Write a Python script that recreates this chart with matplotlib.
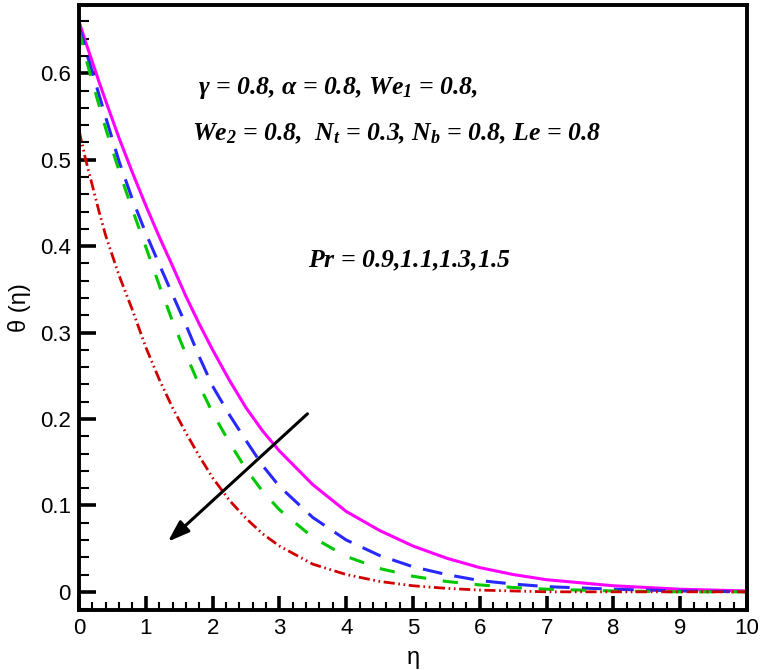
import matplotlib
matplotlib.use("Agg")
from matplotlib import pyplot as plt
from matplotlib.ticker import MultipleLocator

eta = [0, 0.1, 0.2, 0.3, 0.4, 0.6, 0.8, 1.0, 1.2, 1.4, 1.6, 1.8, 2.0,
       2.25, 2.5, 2.75, 3.0, 3.5, 4, 4.5, 5, 5.5, 6, 6.5, 7, 8, 9, 10]

# theta(eta) for Pr = 0.9, 1.1, 1.3, 1.5
theta_pr09 = [0.660, 0.636, 0.613, 0.590, 0.568, 0.525, 0.485, 0.447, 0.411,
              0.377, 0.342, 0.310, 0.280, 0.245, 0.213, 0.186, 0.163, 0.124,
              0.093, 0.071, 0.053, 0.039, 0.028, 0.020, 0.014, 0.007, 0.003,
              0.001]
theta_pr11 = [0.655, 0.627, 0.601, 0.575, 0.549, 0.498, 0.454, 0.415, 0.379,
              0.344, 0.309, 0.272, 0.238, 0.205, 0.175, 0.146, 0.122, 0.086,
              0.060, 0.042, 0.029, 0.020, 0.013, 0.009, 0.006, 0.003, 0.001,
              0.000]
theta_pr13 = [0.650, 0.618, 0.590, 0.563, 0.536, 0.487, 0.442, 0.399, 0.355,
              0.313, 0.275, 0.239, 0.207, 0.173, 0.142, 0.116, 0.095, 0.063,
              0.041, 0.027, 0.018, 0.012, 0.008, 0.005, 0.003, 0.001, 0.000,
              0.000]
theta_pr15 = [0.534, 0.500, 0.470, 0.440, 0.412, 0.366, 0.326, 0.283, 0.246,
              0.213, 0.184, 0.157, 0.132, 0.106, 0.085, 0.067, 0.053, 0.032,
              0.020, 0.012, 0.007, 0.004, 0.002, 0.001, 0.000, 0.000, 0.000,
              0.000]

plt.rcParams['mathtext.fontset'] = 'custom'
plt.rcParams['mathtext.rm'] = 'Liberation Serif:bold:italic'
plt.rcParams['mathtext.it'] = 'Liberation Serif:bold:italic'

fig = plt.figure(figsize=(7.62, 6.70), dpi=100)
ax = fig.add_axes([0.1037, 0.0896, 0.8766, 0.9029])

ax.plot(eta, theta_pr09, color="#FF00FF", lw=2.2)
ax.plot(eta, theta_pr11, color="#2828FF", lw=2.2, linestyle=(0, (6.5, 4)))
ax.plot(eta, theta_pr13, color="#00C800", lw=2.2, linestyle=(0, (5, 5.5)))
ax.plot(eta, theta_pr15, color="#D00000", lw=2.0,
        linestyle=(0, (4, 1.3, 0.6, 1.3, 0.6, 1.3)))

ax.set_xlim(0, 10)
ax.set_ylim(-0.021, 0.679)
ax.xaxis.set_minor_locator(MultipleLocator(0.2))
ax.yaxis.set_minor_locator(MultipleLocator(0.02))
ax.set_yticks([0, 0.1, 0.2, 0.3, 0.4, 0.5, 0.6])
ax.set_yticklabels(["0", "0.1", "0.2", "0.3", "0.4", "0.5", "0.6"])
ax.set_xticks(range(11))
ax.set_xticklabels([str(i) for i in range(11)])

ax.tick_params(axis='y', which='major', direction='in', length=12, width=2.6,
               labelsize=16, pad=6)
ax.tick_params(axis='y', which='minor', direction='in', length=7, width=1.5)
ax.tick_params(axis='x', which='major', direction='in', length=10, width=2.6,
               labelsize=16, pad=6)
ax.tick_params(axis='x', which='minor', direction='in', length=6, width=1.5)
for lab in ax.get_xticklabels() + ax.get_yticklabels():
    lab.set_fontfamily("Liberation Sans")
for sp in ax.spines.values():
    sp.set_linewidth(2.8)

ax.set_xlabel("η", fontsize=17, family="Liberation Sans")
ax.set_ylabel("θ (η)", fontsize=17, family="Liberation Sans")
ax.xaxis.set_label_coords(0.5, -0.061)
ax.yaxis.set_label_coords(-0.072, 0.5)

txt_style = dict(fontsize=18.5, family="Liberation Serif", style="italic",
                 weight="bold")
ax.text(1.78, 0.583, "γ = 0.8, α = 0.8, $We_1$ = 0.8,", va='center', **txt_style)
ax.text(1.69, 0.530, "$We_2$ = 0.8,  $N_t$ = 0.3, $N_b$ = 0.8, $Le$ = 0.8",
        va='center', **txt_style)
ax.text(3.43, 0.383, "$Pr$ = 0.9,1.1,1.3,1.5", va='center', **txt_style)

ax.annotate("", xy=(1.33, 0.058), xytext=(3.42, 0.206),
            arrowprops=dict(arrowstyle="-|>,head_length=1.3,head_width=0.45",
                            color="black", lw=2.2, shrinkA=0, shrinkB=0))

plt.savefig("out.png", dpi=100)
